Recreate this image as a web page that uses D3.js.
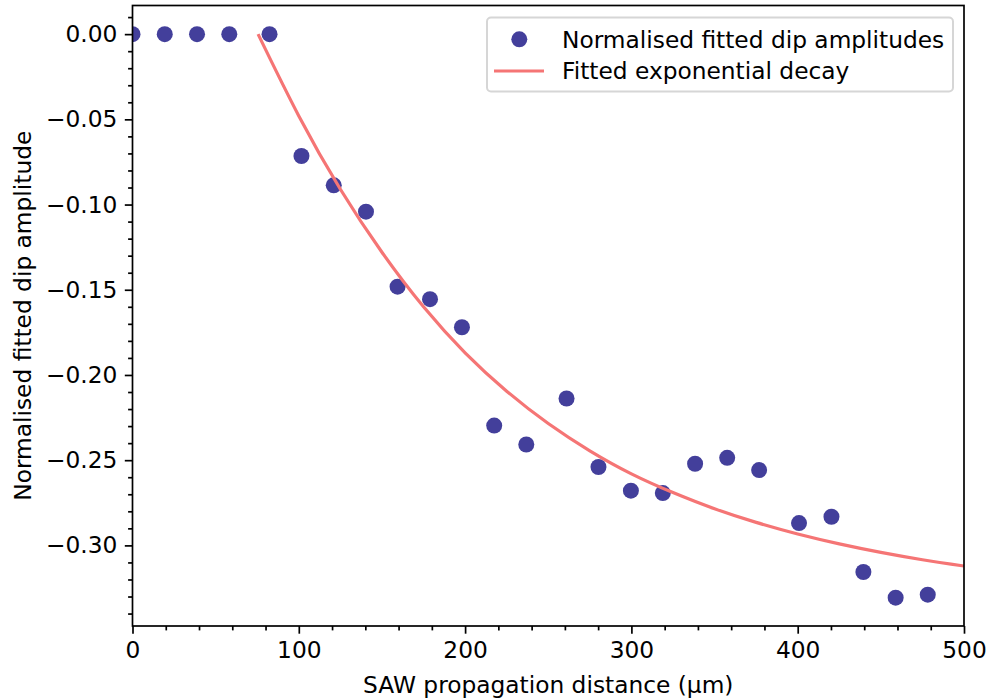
<!DOCTYPE html>
<html>
<head>
<meta charset="utf-8">
<script src="https://cdn.jsdelivr.net/npm/d3@7"></script>
<style>
  html, body { margin: 0; padding: 0; background: #ffffff; }
  svg { display: block; font-family: "DejaVu Sans", sans-serif; }
</style>
</head>
<body>
<svg id="chart" width="989" height="699"></svg>
<script>
// Measured dip amplitudes along the SAW propagation path
const distance = [0, 19.4, 38.8, 58.2, 82.4, 101.6, 121.0, 140.4, 159.4, 178.9,
                  198.1, 217.5, 236.8, 261.0, 280.2, 299.7, 318.9, 338.3, 357.6, 376.8,
                  400.8, 420.3, 439.5, 458.9, 478.2];
const amplitude = [0, 0, 0, 0, 0, -0.0715, -0.0887, -0.1042, -0.1482, -0.1555,
                   -0.1720, -0.2297, -0.2408, -0.2138, -0.2540, -0.2679, -0.2693, -0.2521, -0.2486, -0.2558,
                   -0.2869, -0.2832, -0.3156, -0.3307, -0.3289];

// Fitted exponential decay curve, sampled along the distance axis
const fitDistance = [75.5, 100, 125, 150, 175, 200, 225, 250, 275, 300, 325, 350, 375, 400, 425, 450, 475, 500];
const fitAmplitude = [0, -0.048, -0.091, -0.128, -0.160, -0.187, -0.2095, -0.2285, -0.2445, -0.258,
                      -0.269, -0.2785, -0.2865, -0.2933, -0.2991, -0.3041, -0.3084, -0.3121];

// Axis ticks
const xTicks = [0, 100, 200, 300, 400, 500];
const yTicks = [0, -0.05, -0.10, -0.15, -0.20, -0.25, -0.30];

const seriesLabels = ["Normalised fitted dip amplitudes", "Fitted exponential decay"];

const dotColor = "#433F9B";
const lineColor = "#F57575";
const fontSize = 23.3;

const svg = d3.select("#chart");
const plot = { left: 132.5, right: 964, top: 5.5, bottom: 626 };

const x = d3.scaleLinear().domain([0, 500]).range([plot.left, plot.right]);
const y = d3.scaleLinear().domain([-0.3473, 0.0168]).range([plot.bottom, plot.top]);

// Fitted curve
const line = d3.line()
  .x(d => x(d[0]))
  .y(d => y(d[1]))
  .curve(d3.curveNatural);

svg.append("clipPath").attr("id", "plotclip")
  .append("rect")
  .attr("x", plot.left).attr("y", plot.top)
  .attr("width", plot.right - plot.left).attr("height", plot.bottom - plot.top);

// Scatter points (drawn beneath the line)
svg.append("g")
  .attr("clip-path", "url(#plotclip)")
  .selectAll("circle")
  .data(distance.map((d, i) => [d, amplitude[i]]))
  .join("circle")
  .attr("cx", d => x(d[0]))
  .attr("cy", d => y(d[1]))
  .attr("r", 8)
  .attr("fill", dotColor);

svg.append("path")
  .attr("clip-path", "url(#plotclip)")
  .datum(fitDistance.map((d, i) => [d, fitAmplitude[i]]))
  .attr("d", line)
  .attr("fill", "none")
  .attr("stroke", lineColor)
  .attr("stroke-width", 3.2);

// Axes
const tickStroke = 1.7;
const xAxis = d3.axisBottom(x).tickValues(xTicks).tickFormat(d3.format("d"))
  .tickSize(7.7).tickPadding(7.5);
const xMinor = d3.axisBottom(x).tickValues(d3.range(0, 501, 20).filter(v => v % 100 !== 0))
  .tickSize(4.4).tickFormat("");
const yFmt = v => (v < 0 ? "\u2212" : "") + Math.abs(v).toFixed(2);
const yAxis = d3.axisLeft(y).tickValues(yTicks).tickFormat(yFmt)
  .tickSize(7.7).tickPadding(7.5);
const yMinorVals = d3.range(1, -35, -1).map(v => v / 100).filter(v => Math.round(v * 100) % 5 !== 0);
const yMinor = d3.axisLeft(y).tickValues(yMinorVals).tickSize(4.4).tickFormat("");

function styleAxis(g) {
  g.select(".domain").remove();
  g.selectAll("line").attr("stroke", "#000").attr("stroke-width", tickStroke);
  g.selectAll("text").attr("fill", "#000").style("font-size", fontSize + "px")
    .style("font-family", "'DejaVu Sans', sans-serif");
}

svg.append("g").attr("transform", `translate(0,${plot.bottom})`).call(xAxis).call(styleAxis);
svg.append("g").attr("transform", `translate(0,${plot.bottom})`).call(xMinor).call(styleAxis);
svg.append("g").attr("transform", `translate(${plot.left},0)`).call(yAxis).call(styleAxis);
svg.append("g").attr("transform", `translate(${plot.left},0)`).call(yMinor).call(styleAxis);

// Frame
svg.append("rect")
  .attr("x", plot.left).attr("y", plot.top)
  .attr("width", plot.right - plot.left).attr("height", plot.bottom - plot.top)
  .attr("fill", "none").attr("stroke", "#000").attr("stroke-width", tickStroke);

// Axis titles
svg.append("text")
  .attr("x", (plot.left + plot.right) / 2).attr("y", 693)
  .attr("text-anchor", "middle")
  .style("font-size", fontSize + "px")
  .text("SAW propagation distance (\u03bcm)");

svg.append("text")
  .attr("transform", `translate(31,${(plot.top + plot.bottom) / 2}) rotate(-90)`)
  .attr("text-anchor", "middle")
  .style("font-size", fontSize + "px")
  .text("Normalised fitted dip amplitude");

// Legend
const legend = svg.append("g");
legend.append("rect")
  .attr("x", 487).attr("y", 17.5).attr("width", 466).attr("height", 74)
  .attr("rx", 4).attr("ry", 4)
  .attr("fill", "#fff").attr("fill-opacity", 0.8)
  .attr("stroke", "#d6d6d6").attr("stroke-width", 2);
legend.append("circle").attr("cx", 519.3).attr("cy", 39.3).attr("r", 8).attr("fill", dotColor);
legend.append("line").attr("x1", 494).attr("x2", 544).attr("y1", 71).attr("y2", 71)
  .attr("stroke", lineColor).attr("stroke-width", 3.2);
legend.selectAll("text.lbl")
  .data(seriesLabels)
  .join("text")
  .attr("class", "lbl")
  .attr("x", 562).attr("y", (d, i) => 39.3 + i * 31.7)
  .attr("dy", "0.36em")
  .style("font-size", fontSize + "px")
  .text(d => d);
</script>
</body>
</html>
